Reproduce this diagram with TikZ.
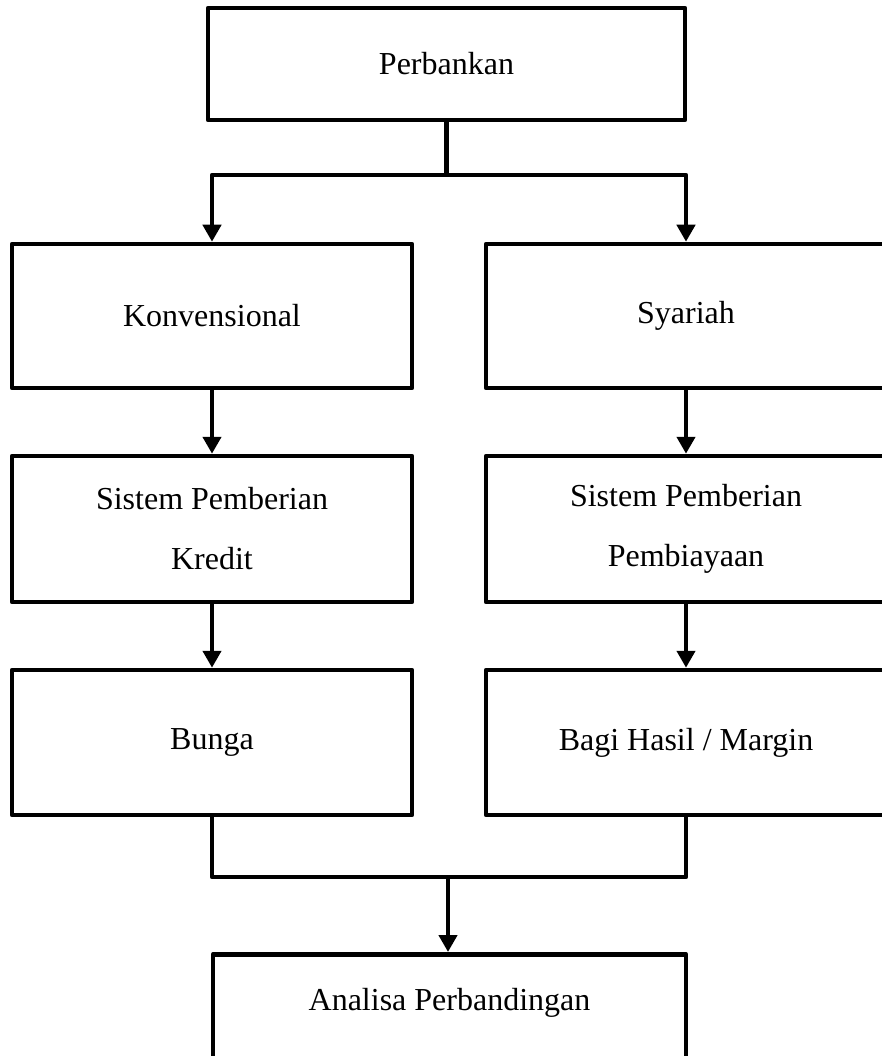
\documentclass[tikz,border=0pt]{standalone}
\usepackage{fontspec}
\setmainfont{Liberation Serif}
\usetikzlibrary{arrows.meta}
\begin{document}
\begin{tikzpicture}[x=1pt,y=-1pt,
  box/.style={draw=black,line width=4.5pt,line join=round,rectangle,inner sep=0pt,font=\fontsize{32}{60}\selectfont,align=center},
  txt/.style={inner sep=0pt,font=\fontsize{32}{60}\selectfont,align=center},
  link/.style={draw=black,line width=4.5pt,line join=round},
  arr/.style={link,-{Triangle[width=18pt,length=17pt]}}]
\useasboundingbox (0,0) rectangle (882,1056);
\clip (0,0) rectangle (882,1056);
\fill[white] (0,0) rectangle (882,1056);
\node[box,minimum width=477pt,minimum height=112pt] (top) at (446.5,64) {Perbankan};
\node[box,minimum width=400pt,minimum height=144pt] (kon) at (212,316) {Konvensional};
\node[box,minimum width=400pt,minimum height=144pt] (sya) at (686,316) {Syariah};
\node[box,minimum width=400pt,minimum height=146pt] (sk) at (212,529) {Sistem Pemberian\\Kredit};
\node[box,minimum width=400pt,minimum height=146pt] (sp) at (686,529) {Sistem Pemberian\\Pembiayaan};
\node[box,minimum width=400pt,minimum height=145pt] (bunga) at (212,742.5) {Bunga};
\node[box,minimum width=400pt,minimum height=145pt] (bagi) at (686,742.5) {Bagi Hasil / Margin};
\node[box,minimum width=473pt,minimum height=160pt,anchor=north] (anal) at (449.5,952) {};
\node[txt] (analt) at (449.5,1003) {Analisa Perbandingan};
\coordinate (bus1) at (446.5,175);
\coordinate (bus2) at (448,877);
\draw[link] (top.south) -- (bus1);
\draw[arr] (bus1) -| (kon.north);
\draw[arr] (bus1) -| (sya.north);
\draw[arr] (kon) -- (sk);
\draw[arr] (sya) -- (sp);
\draw[arr] (sk) -- (bunga);
\draw[arr] (sp) -- (bagi);
\draw[link] (bunga.south) |- (bus2);
\draw[link] (bagi.south) |- (bus2);
\draw[arr] (bus2) -- (bus2 |- anal.north);
\end{tikzpicture}
\end{document}
